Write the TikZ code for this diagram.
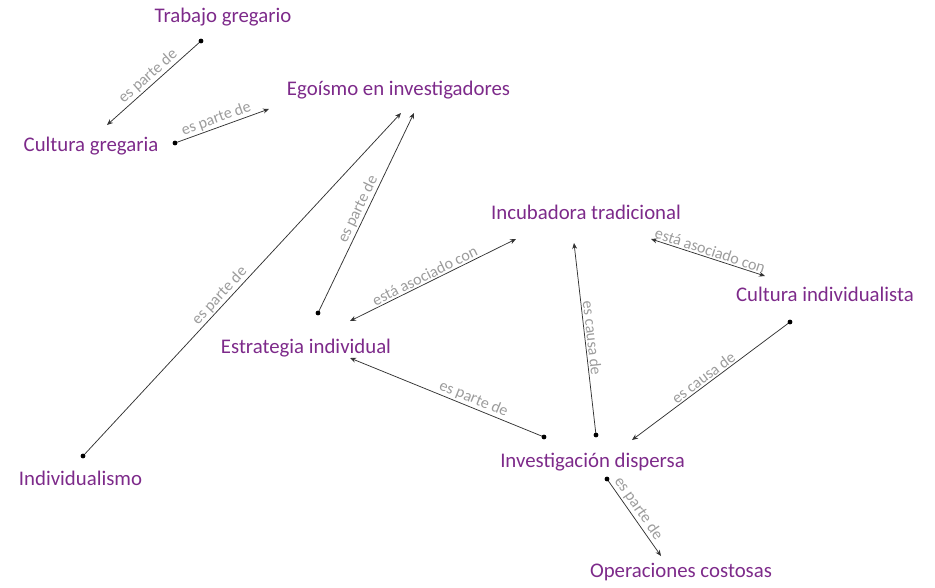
\documentclass[tikz,border=0pt]{standalone}
\usepackage{fontspec}
\setmainfont{Carlito}
\usetikzlibrary{arrows.meta}
\definecolor{conc}{HTML}{7D2A8A}
\definecolor{lbl}{HTML}{9C9C9C}
\begin{document}
\begin{tikzpicture}[x=1pt,y=-1pt,
  concept/.style={text=conc,font=\fontsize{20.8}{22}\selectfont,inner sep=0pt,anchor=base},
  link/.style={draw=black!80,line width=0.75pt},
  rel/.style={link,-{Stealth[length=6pt,width=5pt]}},
  both/.style={link,{Stealth[length=6pt,width=5pt]}-{Stealth[length=6pt,width=5pt]}},
  lab/.style={text=lbl,font=\fontsize{16}{17}\selectfont,sloped,above,inner sep=1.5pt},
  dotc/.style={fill=black}]
\useasboundingbox (0,0) rectangle (935,587);
% concepts
\node[concept] (trab) at (223,22) {Trabajo gregario};
\node[concept] (cgreg) at (91,151) {Cultura gregaria};
\node[concept] (ego) at (398.5,95) {Egoísmo en investigadores};
\node[concept] (incu) at (586,219) {Incubadora tradicional};
\node[concept] (cind) at (825,301) {Cultura individualista};
\node[concept] (estr) at (306,353) {Estrategia individual};
\node[concept] (indiv) at (80.5,485) {Individualismo};
\node[concept] (inv) at (592.5,467) {Investigación dispersa};
\node[concept] (oper) at (681,577) {Operaciones costosas};
% connector end points
\coordinate (s1) at (201,41);  \coordinate (e1) at (107,125);
\coordinate (s2) at (175,143); \coordinate (e2) at (269,109);
\coordinate (s3) at (83,456);  \coordinate (e3) at (401,113);
\coordinate (s4) at (318,313); \coordinate (e4) at (414,113);
\coordinate (a5) at (350,321); \coordinate (b5) at (516,239);
\coordinate (a6) at (651,239); \coordinate (b6) at (765,276);
\coordinate (s7) at (544,437); \coordinate (e7) at (350,358);
\coordinate (s8) at (596,435); \coordinate (e8) at (574,243);
\coordinate (s9) at (790,322); \coordinate (e9) at (632,440);
\coordinate (s10) at (607,479); \coordinate (e10) at (661,556);
% connectors
\draw[rel] (s1) -- node[lab,pos=0.5] {es parte de} (e1);
\draw[rel] (s2) -- node[lab,pos=0.47] {es parte de} (e2);
\draw[rel] (s3) -- node[lab,pos=0.45] {es parte de} (e3);
\draw[rel] (s4) -- node[lab,pos=0.5] {es parte de} (e4);
\draw[both] (a5) -- node[lab,pos=0.47] {está asociado con} (b5);
\draw[both] (a6) -- node[lab,pos=0.5] {está asociado con} (b6);
\draw[rel] (s7) -- node[lab,pos=0.38] {es parte de} (e7);
\draw[rel] (s8) -- node[lab,pos=0.5] {es causa de} (e8);
\draw[rel] (s9) -- node[lab,pos=0.52] {es causa de} (e9);
\draw[rel] (s10) -- node[lab,pos=0.45] {es parte de} (e10);
% start dots
\foreach \p in {s1,s2,s3,s4,s7,s8,s9,s10} \fill[dotc] (\p) circle (2.4pt);
\end{tikzpicture}
\end{document}
